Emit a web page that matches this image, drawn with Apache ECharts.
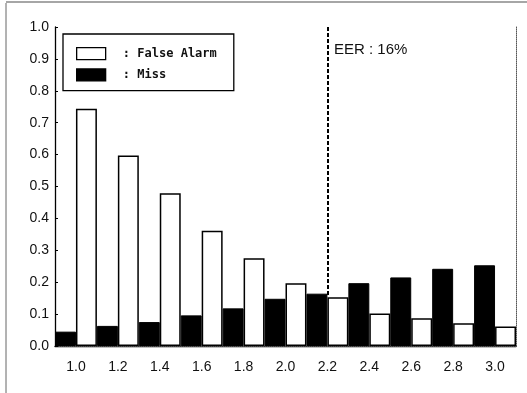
<!DOCTYPE html>
<html><head><meta charset="utf-8">
<script src="https://cdn.jsdelivr.net/npm/echarts@6/dist/echarts.min.js"></script>
<style>html,body{margin:0;padding:0;background:#fff}#c{width:527px;height:393px}</style>
</head><body><div id="c"></div>
<script>
const categories = ['1.0','1.2','1.4','1.6','1.8','2.0','2.2','2.4','2.6','2.8','3.0'];
const missValues = [0.045,0.063,0.075,0.096,0.118,0.148,0.164,0.197,0.215,0.242,0.253];
const falseAlarmValues = [0.744,0.597,0.479,0.361,0.275,0.197,0.153,0.102,0.087,0.071,0.061];
const yTicks = ['0.0','0.1','0.2','0.3','0.4','0.5','0.6','0.7','0.8','0.9','1.0'];
const eerCategory = '2.2';
const eerValue = 0.16;
const eerLabel = 'EER : 16%';

const chart = echarts.init(document.getElementById('c'));
const font = 'Liberation Sans, Arial, sans-serif';
chart.setOption({
  animation: false,
  backgroundColor: '#fff',
  grid: {left: 55, right: 11, top: 27, bottom: 47},
  legend: {
    data: ['False Alarm', 'Miss'],
    orient: 'vertical', left: 63, top: 34,
    icon: 'rect', itemWidth: 29, itemHeight: 12, itemGap: 8,
    borderColor: '#000', borderWidth: 1.3,
    padding: [13, 17, 9, 13],
    formatter: n => ' : ' + n,
    textStyle: {fontFamily: 'DejaVu Sans Mono, monospace', fontSize: 12, fontWeight: 'bold', color: '#111', padding: [0, 0, 0, 5]},
    itemStyle: {borderColor: '#000', borderWidth: 1.3}
  },
  xAxis: [{
    type: 'category', data: categories,
    axisLine: {lineStyle: {color: '#000', width: 1.3}},
    axisTick: {show: false},
    axisLabel: {fontFamily: font, fontSize: 14, color: '#111', margin: 14}
  }, {
    type: 'category', data: categories, position: 'top',
    axisLine: {show: true, lineStyle: {color: '#555', width: 1, type: 'dotted'}},
    axisTick: {show: false}, axisLabel: {show: false}
  }],
  yAxis: [{
    type: 'value', min: 0, max: 1, interval: 0.1,
    axisLine: {show: true, lineStyle: {color: '#000', width: 1.3}},
    axisTick: {show: true, inside: true, length: 3, lineStyle: {color: '#000'}},
    splitLine: {show: false},
    axisLabel: {fontFamily: font, fontSize: 14, color: '#111', margin: 6,
      formatter: v => yTicks[Math.round(v * 10)]}
  }, {
    type: 'value', min: 0, max: 1, interval: 0.1, position: 'right',
    axisLine: {show: true, lineStyle: {color: '#555', width: 1, type: 'dotted'}},
    axisTick: {show: false}, axisLabel: {show: false}, splitLine: {show: false}
  }],
  series: [{
    name: 'EER', type: 'line', data: [], z: 1,
    markLine: {
      symbol: 'none', silent: true, z: 1,
      lineStyle: {color: '#000', type: [4, 2], width: 2},
      label: {show: false},
      data: [[{coord: [eerCategory, eerValue]}, {coord: [eerCategory, 1]}]]
    }
  }, {
    name: 'Miss', type: 'bar', data: missValues, z: 3,
    barGap: '0%', barCategoryGap: '0%',
    itemStyle: {color: '#000', borderColor: '#000', borderWidth: 1}
  }, {
    name: 'False Alarm', type: 'bar', data: falseAlarmValues, z: 3,
    barGap: '0%', barCategoryGap: '0%',
    itemStyle: {color: '#fff', borderColor: '#000', borderWidth: 1.5}
  }],
  graphic: [
    {type: 'text', left: 334, top: 42, style: {text: eerLabel, font: '15px ' + font, fill: '#111'}},
    {type: 'line', shape: {x1: 6, y1: 3, x2: 6, y2: 393}, style: {stroke: '#666', lineWidth: 1}},
    {type: 'line', shape: {x1: 6, y1: 2, x2: 527, y2: 2}, style: {stroke: '#888', lineWidth: 1.5}}
  ]
});
</script></body></html>
